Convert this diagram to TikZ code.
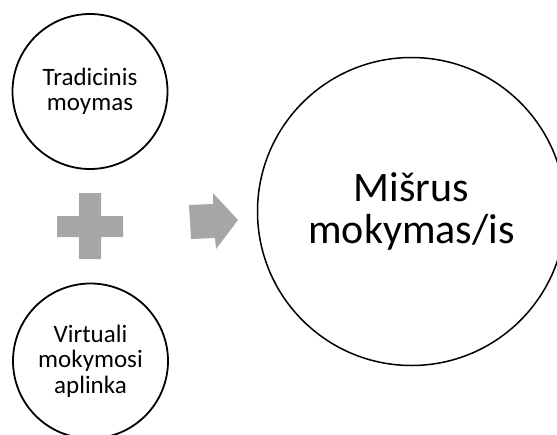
\documentclass[tikz,border=0pt]{standalone}
\usepackage{fontspec}
\setmainfont{Carlito}
\definecolor{signgray}{HTML}{A6A6A6}
\begin{document}
\begin{tikzpicture}[x=1pt, y=-1pt,
		part/.style={draw, circle, line width=1.8pt, minimum size=155pt, align=center, font=\fontsize{25}{25.5}\selectfont},
		whole/.style={draw, circle, line width=1.5pt, minimum size=308pt, align=center, font=\fontsize{42}{42}\selectfont}]
			\clip (0,0) rectangle (557,434);
			\node[part] (trad) at (90,91.5) {Tradicinis\\moymas};
			\node[part] (virt) at (90.5,361) {Virtuali\\mokymosi\\aplinka};
			\node[whole] (mix) at (411.5,211.5) {Mišrus\\mokymas/is};
			% plus sign
			\fill[signgray] (79,193) -- (101,193) -- (101,216) -- (123,216) -- (123,237) -- (101,237)
				-- (101,259) -- (79,259) -- (79,237) -- (57,237) -- (57,216) -- (79,216) -- cycle;
			% arrow
			\fill[signgray] (189,205) -- (213,204) -- (213,193) -- (238,220) -- (216,249) -- (215,238)
				-- (191,239) -- cycle;
		\end{tikzpicture}
\end{document}
